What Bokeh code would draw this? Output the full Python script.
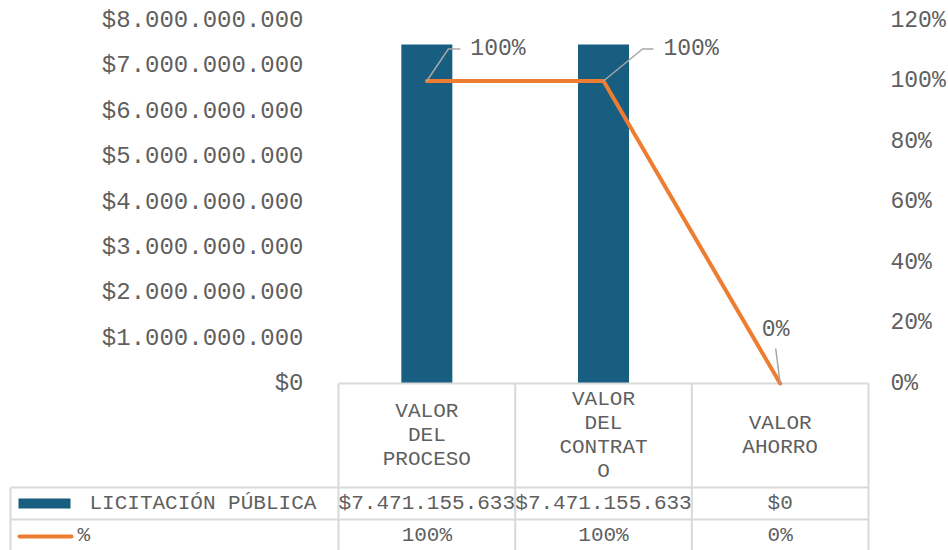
from bokeh.plotting import figure
from bokeh.models import Range1d, LinearAxis, FixedTicker, CustomJSTickFormatter
from bokeh.embed import file_html
from bokeh.resources import INLINE
from bokeh.core.properties import value

# ---------------- data ----------------
categories = ["VALOR DEL PROCESO", "VALOR DEL CONTRATO", "VALOR AHORRO"]
category_labels = ["VALOR\nDEL\nPROCESO", "VALOR\nDEL\nCONTRAT\nO", "VALOR\nAHORRO"]
montos = [7471155633, 7471155633, 0]
porcentajes = [1.0, 1.0, 0.0]
series_names = ["LICITACIÓN PÚBLICA", "%"]
left_ticks = [0, 1000000000, 2000000000, 3000000000, 4000000000,
              5000000000, 6000000000, 7000000000, 8000000000]
right_ticks = [0.0, 0.2, 0.4, 0.6, 0.8, 1.0, 1.2]


def fmt_money(v):
    return "$" + f"{int(round(v)):,}".replace(",", ".")


def fmt_pct(v):
    return f"{int(round(v * 100))}%"


# ---------------- style / layout (window px) ----------------
W, H = 948, 550
FONT = "Liberation Mono"
TXT = "#5f5f5f"
BAR = "#175E80"
ORANGE = "#ED7D31"
GRID = "#D9D9D9"
LEADER = "#A6A6A6"

COL0 = 338.0                # x of first category boundary
COLW = (868.0 - 338.0) / 3  # px per category
Y_TOP, Y0 = 20.0, 383.0     # y of max and zero
FR_L, FR_R = 8.0, 870.0     # frame left / right
LEFT_MAX = left_ticks[-1]
RIGHT_MAX = right_ticks[-1]
PLOT_H = Y0 - Y_TOP

xs = [i + 1 for i in range(len(categories))]
bounds = [i + 0.5 for i in range(len(categories) + 1)]


def px2x(wx):
    return 0.5 + (wx - COL0) / COLW


below_px = H - Y0
y_rng = Range1d(-below_px * LEFT_MAX / PLOT_H, LEFT_MAX + Y_TOP * LEFT_MAX / PLOT_H)
pct_rng = Range1d(-below_px * RIGHT_MAX / PLOT_H, RIGHT_MAX + Y_TOP * RIGHT_MAX / PLOT_H)
tbl_rng = Range1d(H, 0)     # table rows in px from top

p = figure(width=W, height=H,
           x_range=Range1d(px2x(FR_L), px2x(FR_R)), y_range=y_rng,
           x_axis_type=None, y_axis_type=None,
           min_border_left=int(FR_L), min_border_right=int(W - FR_R),
           min_border_top=0, min_border_bottom=0,
           toolbar_location=None, output_backend="svg",
           outline_line_color=None, background_fill_color="white")
p.extra_y_ranges = {"pct": pct_rng, "tbl": tbl_rng}
p.grid.visible = False

left_axis = LinearAxis(ticker=FixedTicker(ticks=left_ticks), fixed_location=bounds[0],
                       formatter=CustomJSTickFormatter(code="""
    return "$" + Math.round(tick).toString().replace(/\\B(?=(\\d{3})+(?!\\d))/g, ".");
"""))
right_axis = LinearAxis(y_range_name="pct", ticker=FixedTicker(ticks=right_ticks),
                        formatter=CustomJSTickFormatter(code="""
    return Math.round(tick * 100) + "%";
"""))
for ax, size, stand in ((left_axis, "24px", 35), (right_axis, "23px", 20)):
    ax.axis_line_color = None
    ax.major_tick_line_color = None
    ax.minor_tick_line_color = None
    ax.major_tick_out = 0
    ax.major_tick_in = 0
    ax.major_label_standoff = stand
    ax.major_label_text_font = FONT
    ax.major_label_text_font_size = size
    ax.major_label_text_color = TXT
p.add_layout(left_axis, "left")
p.add_layout(right_axis, "right")

# bars
p.vbar(x=xs, top=montos, width=51 / COLW, color=BAR, line_color=None)

# ---- data table ----
HDR_BOT, ROW2_BOT = 487.0, 519.0
ROW2_Y, ROW3_Y = 503.0, 535.0
xl = px2x(10)
p.segment(x0=bounds, y0=[Y0] * len(bounds), x1=bounds, y1=[H] * len(bounds),
          y_range_name="tbl", line_color=GRID, line_width=2)
p.segment(x0=[bounds[0], xl, xl, xl], y0=[Y0, HDR_BOT, ROW2_BOT, HDR_BOT],
          x1=[bounds[-1], bounds[-1], bounds[-1], xl], y1=[Y0, HDR_BOT, ROW2_BOT, H],
          y_range_name="tbl", line_color=GRID, line_width=2)

p.text(x=xs, y=[(Y0 + HDR_BOT) / 2] * len(xs), text=category_labels, y_range_name="tbl",
       text_align="center", text_baseline="middle", text_line_height=1.05,
       text_font=value(FONT), text_font_size="21px", text_color=TXT)
p.text(x=xs, y=[ROW2_Y] * len(xs), text=[fmt_money(v) for v in montos], y_range_name="tbl",
       text_align="center", text_baseline="middle",
       text_font=value(FONT), text_font_size="21px", text_color=TXT)
p.text(x=xs, y=[ROW3_Y] * len(xs), text=[fmt_pct(v) for v in porcentajes], y_range_name="tbl",
       text_align="center", text_baseline="middle",
       text_font=value(FONT), text_font_size="21px", text_color=TXT)

# legend keys in the table
p.quad(left=[px2x(18)], right=[px2x(70)], top=[ROW2_Y - 5], bottom=[ROW2_Y + 5],
       y_range_name="tbl", color=BAR, line_color=None)
p.segment(x0=[px2x(19)], y0=[ROW3_Y + 1], x1=[px2x(71)], y1=[ROW3_Y + 1], y_range_name="tbl",
          line_color=ORANGE, line_width=4, line_cap="round")
p.text(x=[px2x(89), px2x(77)], y=[ROW2_Y, ROW3_Y], text=series_names, y_range_name="tbl",
       text_align="left", text_baseline="middle",
       text_font=value(FONT), text_font_size="21px", text_color=TXT)

# percentage line
p.line(xs, porcentajes, y_range_name="pct", line_color=ORANGE, line_width=4,
       line_cap="round", line_join="round")

# data labels with leader lines (offsets in px)
PX_PCT = PLOT_H / RIGHT_MAX
leader_offsets = [[(0, 0), (21.5, 32), (33.5, 32)],
                  [(0, 0), (39, 32), (50, 32)],
                  [(0, 0), (-4.5, 35)]]
label_offsets = [(43.5, 32), (60, 32), (-4.5, 54)]
label_align = ["left", "left", "center"]

lx, ly = [], []
for x, v, offs in zip(xs, porcentajes, leader_offsets):
    lx.append([x + dx / COLW for dx, dy in offs])
    ly.append([v + dy / PX_PCT for dx, dy in offs])
p.multi_line(lx, ly, y_range_name="pct", line_color=LEADER, line_width=1.5)

p.text(x=[x + o[0] / COLW for x, o in zip(xs, label_offsets)],
       y=[v + o[1] / PX_PCT for v, o in zip(porcentajes, label_offsets)],
       text=[fmt_pct(v) for v in porcentajes], y_range_name="pct",
       text_align=label_align, text_baseline="middle",
       text_font=value(FONT), text_font_size="23px", text_color=TXT)

open("out.html", "w").write(file_html(p, INLINE))
